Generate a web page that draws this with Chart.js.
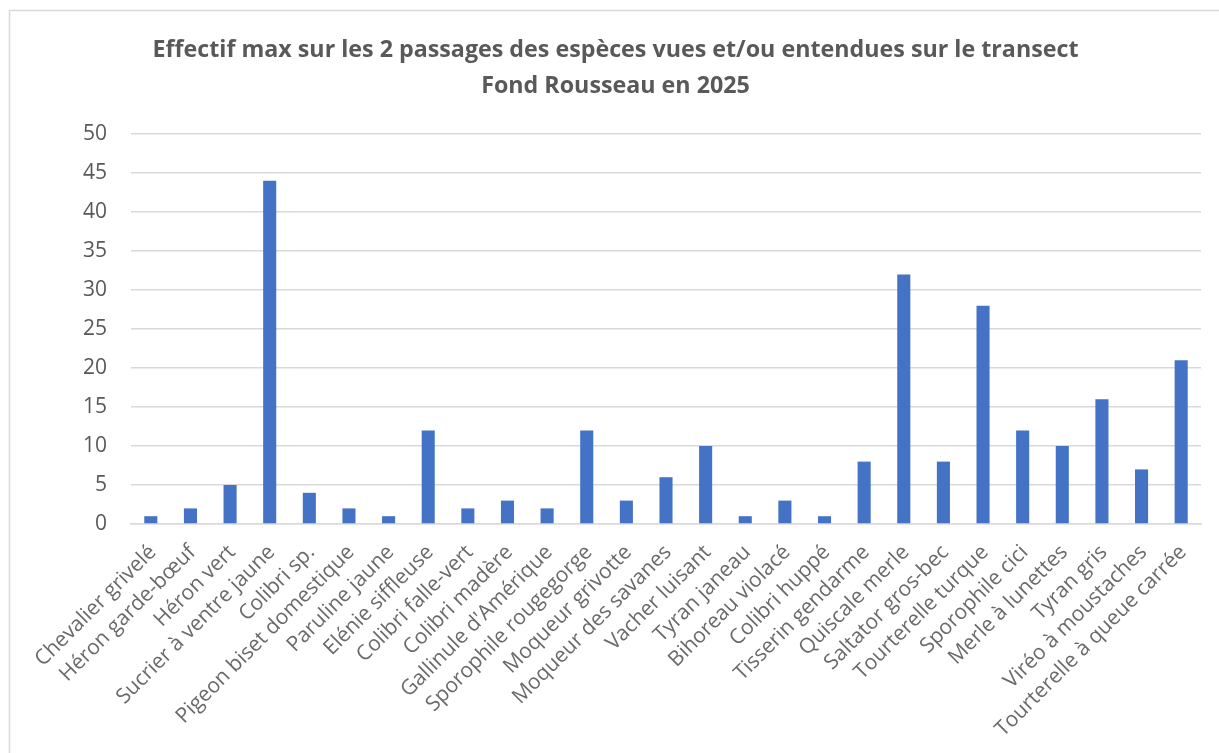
<!DOCTYPE html>
<html>
<head>
<meta charset="utf-8">
<script src="https://cdn.jsdelivr.net/npm/chart.js@4.4.1/dist/chart.umd.min.js"></script>
<style>
  html, body { margin: 0; padding: 0; background: #ffffff; }
  #wrap { width: 1219px; height: 753px; position: relative; }
</style>
</head>
<body>
<div id="wrap"><canvas id="c" width="1219" height="753"></canvas></div>
<script>
const titleLines = [
  "Effectif max sur les 2 passages des espèces vues et/ou entendues sur le transect",
  "Fond Rousseau en 2025"
];
const categories = [
  "Chevalier grivelé", "Héron garde-bœuf", "Héron vert", "Sucrier à ventre jaune",
  "Colibri sp.", "Pigeon biset domestique", "Paruline jaune", "Elénie siffleuse",
  "Colibri falle-vert", "Colibri madère", "Gallinule d'Amérique", "Sporophile rougegorge",
  "Moqueur grivotte", "Moqueur des savanes", "Vacher luisant", "Tyran janeau",
  "Bihoreau violacé", "Colibri huppé", "Tisserin gendarme", "Quiscale merle",
  "Saltator gros-bec", "Tourterelle turque", "Sporophile cici", "Merle à lunettes",
  "Tyran gris", "Viréo à moustaches", "Tourterelle à queue carrée"
];
const effectifMax = [1, 2, 5, 44, 4, 2, 1, 12, 2, 3, 2, 12, 3, 6, 10, 1, 3, 1, 8, 32, 8, 28, 12, 10, 16, 7, 21];
const yMin = 0, yMax = 50, yStep = 5;

const frame = {
  id: 'frame',
  beforeDraw(chart) {
    const ctx = chart.ctx;
    ctx.save();
    ctx.fillStyle = '#ffffff';
    ctx.fillRect(0, 0, chart.width, chart.height);
    ctx.strokeStyle = '#d9d9d9';
    ctx.lineWidth = 1.5;
    ctx.strokeRect(9.5, 10.5, 1400, 900);
    ctx.restore();
  }
};

new Chart(document.getElementById('c'), {
  type: 'bar',
  data: {
    labels: categories,
    datasets: [{
      data: effectifMax,
      backgroundColor: '#4472C4',
      borderWidth: 0,
      barPercentage: 0.66,
      categoryPercentage: 0.5
    }]
  },
  options: {
    responsive: false,
    animation: false,
    devicePixelRatio: 1,
    layout: { padding: { left: 30, right: 18, top: 0, bottom: 0 } },
    plugins: {
      legend: { display: false },
      tooltip: { enabled: false },
      title: {
        display: true,
        text: titleLines,
        color: '#595959',
        font: { family: 'Open Sans', size: 23.25, weight: 'bold', lineHeight: 1.55 },
        padding: { top: 32, bottom: 30 }
      }
    },
    scales: {
      x: {
        grid: { display: false, drawTicks: false },
        border: { display: true, color: '#d9d9d9', width: 1.5 },
        ticks: {
          color: '#6a6a6a',
          font: { family: 'Open Sans', size: 21 },
          minRotation: 45, maxRotation: 45,
          autoSkip: false,
          padding: 16,
          labelOffset: 2
        },
        afterFit(scale) { scale.height = 229; }
      },
      y: {
        min: yMin, max: yMax,
        grid: { color: '#d9d9d9', lineWidth: 1.5, drawTicks: false },
        border: { display: false },
        ticks: {
          stepSize: yStep,
          color: '#595959',
          font: { family: 'Open Sans', size: 21 },
          padding: 24
        },
        afterFit(scale) { scale.width = 101; }
      }
    }
  },
  plugins: [frame]
});
</script>
</body>
</html>
